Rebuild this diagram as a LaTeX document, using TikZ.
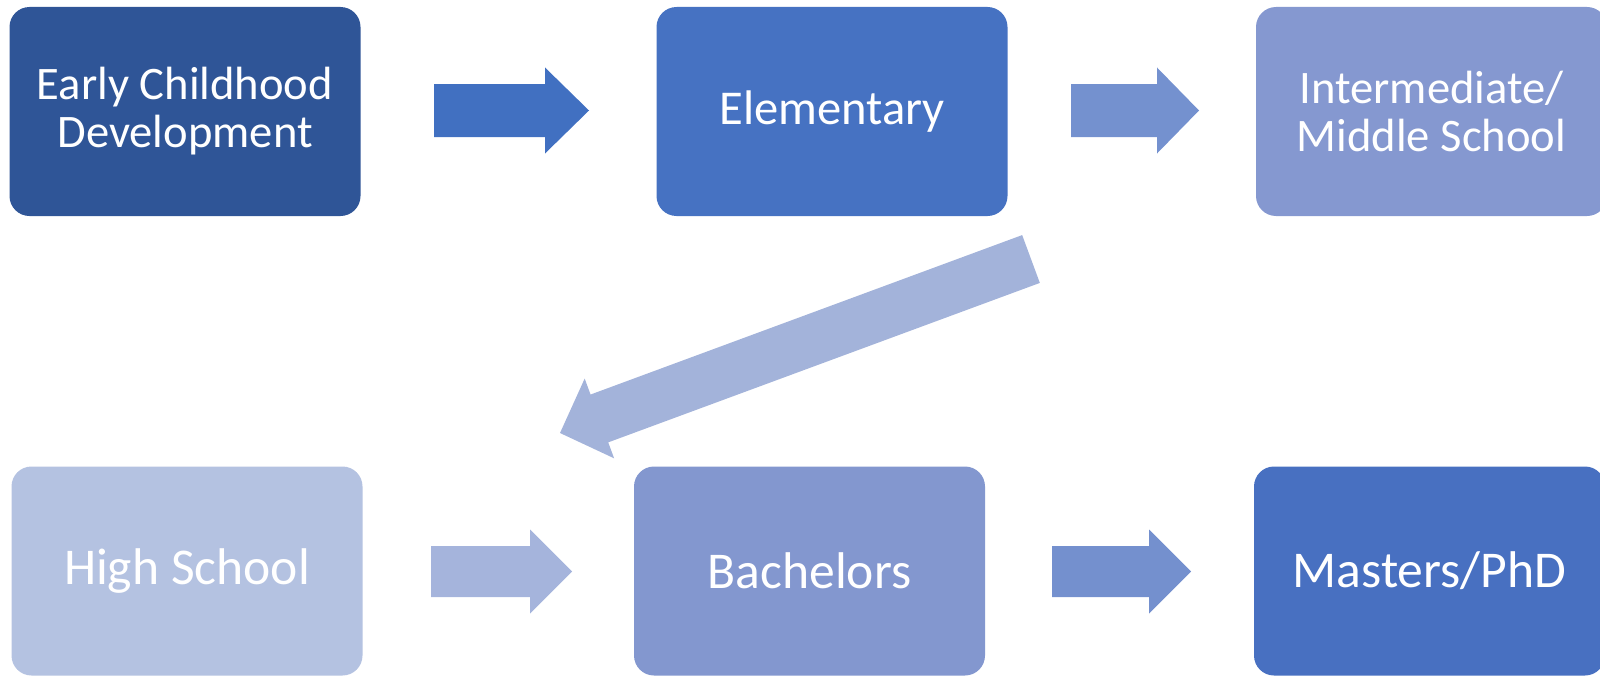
\documentclass[tikz,border=0pt]{standalone}
\usepackage{fontspec}
\setmainfont{Carlito}
\usetikzlibrary{calc}
\definecolor{cEarly}{HTML}{2F5597}
\definecolor{cElem}{HTML}{4672C2}
\definecolor{cInter}{HTML}{8598D0}
\definecolor{cHigh}{HTML}{B4C2E1}
\definecolor{cBach}{HTML}{8397CF}
\definecolor{cMast}{HTML}{4870C1}
\definecolor{aOne}{HTML}{4170C1}
\definecolor{aTwo}{HTML}{7491CF}
\definecolor{aDiag}{HTML}{A3B3DA}
\definecolor{aThree}{HTML}{A5B4DC}
\definecolor{aFour}{HTML}{7490CE}
% #1 colour, #2 tail, #3 tip, #4 shaft half width, #5 head half width, #6 head length
\newcommand\blockarrow[6]{%
  \coordinate (bah) at ($(#3)!#6!(#2)$);
  \fill[#1] ($(#2)!#4!90:(#3)$) -- ($(bah)!#4!90:(#3)$) -- ($(bah)!#5!90:(#3)$) -- (#3)
    -- ($(bah)!#5!-90:(#3)$) -- ($(bah)!#4!-90:(#3)$) -- ($(#2)!#4!-90:(#3)$) -- cycle;}
\begin{document}
\begin{tikzpicture}[x=1pt,y=-1pt,
  box/.style={rectangle, rounded corners=20pt, minimum width=351pt, minimum height=209pt,
    inner sep=0pt, text=white, align=center},
  twoline/.style={font=\fontsize{46.6pt}{48pt}\selectfont},
  oneline/.style={font=\fontsize{48.6pt}{50pt}\selectfont},
  bigline/.style={font=\fontsize{51.6pt}{54pt}\selectfont}]
\useasboundingbox (0,0) rectangle (1600,677);
% boxes
\node[box, twoline, fill=cEarly] (early) at (185,111.5) {Early Childhood\\Development};
\node[box, oneline, fill=cElem] (elem) at (832,111.5) {Elementary};
\node[box, twoline, fill=cInter] (inter) at (1431.5,111.5) {Intermediate/\\Middle School};
\node[box, bigline, fill=cHigh] (high) at (187,571) {High School};
\node[box, bigline, fill=cBach] (bach) at (809.5,571) {Bachelors};
\node[box, bigline, fill=cMast] (mast) at (1429.5,571) {Masters/PhD};
% arrow end points
\coordinate (a1s) at (434,110.5);  \coordinate (a1e) at (589,110.5);
\coordinate (a2s) at (1071,110.5); \coordinate (a2e) at (1199,110.5);
\coordinate (a3s) at (431,571.5);  \coordinate (a3e) at (572,571.5);
\coordinate (a4s) at (1052,571.5); \coordinate (a4e) at (1191,571.5);
\coordinate (ads) at (1031,259);   \coordinate (ade) at (560,433);
% block arrows
\blockarrow{aOne}{a1s}{a1e}{26.5pt}{43pt}{44pt}
\blockarrow{aTwo}{a2s}{a2e}{26.5pt}{43pt}{42pt}
\blockarrow{aThree}{a3s}{a3e}{25.5pt}{42pt}{42pt}
\blockarrow{aFour}{a4s}{a4e}{25.5pt}{42pt}{42pt}
\blockarrow{aDiag}{ads}{ade}{25.5pt}{42.5pt}{42pt}
\end{tikzpicture}
\end{document}
